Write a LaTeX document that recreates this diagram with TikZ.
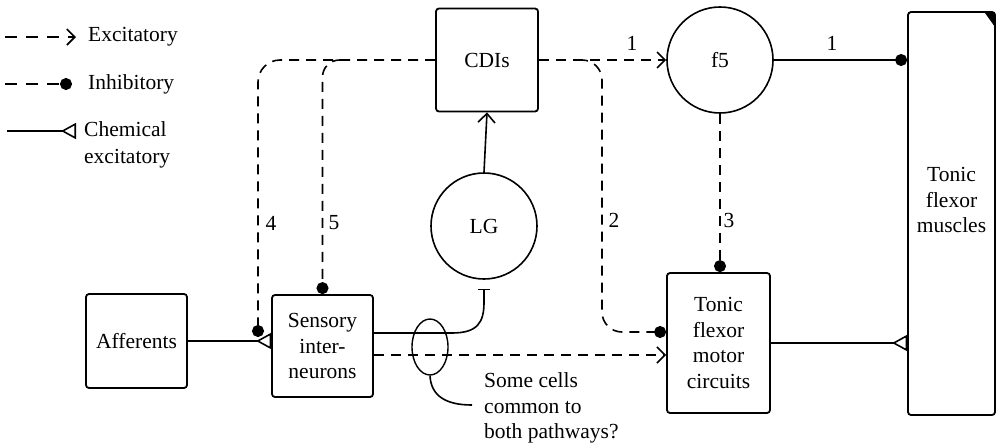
\documentclass[tikz,border=0pt]{standalone}
\usepackage{fontspec}
\setmainfont{Liberation Serif}
\usetikzlibrary{arrows.meta,shapes.geometric,calc}
\begin{document}
\begin{tikzpicture}[x=1pt,y=-1pt,
  txt/.style={font=\fontsize{21.5}{25.5}\selectfont},
  box/.style={draw, line width=1.8pt, rounded corners=3pt, inner sep=0pt, align=center, txt},
  circ/.style={draw, circle, line width=1.6pt, inner sep=0pt, minimum size=106pt, txt},
  conn/.style={line width=1.6pt},
  dsh/.style={dash pattern=on 10pt off 7pt},
  exc/.style={conn, dsh, -{Straight Barb[length=8pt,width=16pt]}},
  inh/.style={conn, dsh, -{Circle[length=12pt]}},
  chem/.style={conn, -{Triangle[open,reversed,length=15pt,width=16pt]}},
  lbl/.style={txt, inner sep=0pt}
]
\useasboundingbox (0,0) rectangle (1000,445);

% legend
\coordinate (l1a) at (5,37);  \coordinate (l1b) at (76,37);
\coordinate (l2a) at (5,84);  \coordinate (l2b) at (72,84);
\coordinate (l3a) at (7,131); \coordinate (l3b) at (76,131);
\draw[exc, dash pattern=on 12pt off 9pt] (l1a) -- (l1b);
\draw[inh, dash pattern=on 12pt off 9pt] (l2a) -- (l2b);
\draw[chem] (l3a) -- (l3b);
\node[lbl, anchor=west] (l1t) at (88,37) {Excitatory};
\node[lbl, anchor=west] (l2t) at (88,84) {Inhibitory};
\node[lbl, anchor=west, align=left] (l3t) at (84,145) {Chemical\\[1pt]excitatory};

% nodes
\node[box, minimum width=101pt, minimum height=94pt] (aff) at (136.5,341) {Afferents};
\node[box, minimum width=101pt, minimum height=102pt] (sens) at (322.5,346) {Sensory\\inter-\\neurons};
\node[box, minimum width=102pt, minimum height=103pt] (cdi) at (487,60) {CDIs};
\node[circ] (f5) at (720,60) {f5};
\node[circ] (lg) at (484,226) {LG};
\node[box, minimum width=103pt, minimum height=140pt] (motor) at (718.5,343) {Tonic\\flexor\\motor\\circuits};
\node[box, minimum width=87pt, minimum height=403pt] (musc) at (951.5,213.5) {};
\node[lbl, align=center] (musctext) at (951.5,200) {Tonic\\flexor\\muscles};
\fill (985,13) -- (995,13) -- (995,27) -- cycle;

% connectors
\draw[exc] (cdi.east) -- (f5.west);
\draw[conn, -{Circle[length=12pt]}] (f5.east) -- (f5.east -| musc.west);
\node[lbl] (n1a) at (632,43) {1};
\node[lbl] (n1b) at (832,43) {1};

\coordinate (j2) at (578,60);
\coordinate (c2) at (602,332);
\draw[inh, rounded corners=20pt] (j2) -| (c2) -- (c2 -| motor.west);
\node[lbl] (n2) at (614,220) {2};

\draw[inh] (f5.south) -- (f5.south |- motor.north);
\node[lbl] (n3) at (729,220) {3};

\coordinate (p4) at (258,337);
\draw[inh, rounded corners=22pt] (cdi.west) -| (p4);
\node[lbl] (n4) at (271,223) {4};

\coordinate (j5) at (342,60);
\draw[inh, rounded corners=17pt] (j5) -| (sens.north);
\node[lbl] (n5) at (334,223) {5};

\draw[chem] (aff.east) -- (aff.east -| sens.west);
\draw[chem] (motor.east) -- (motor.east -| musc.west);

\draw[conn, -{Straight Barb[length=9pt,width=17pt]}] (lg.north) -- (cdi.south);
\draw[conn, -{Bar[width=12pt]}] ($(sens.east)+(0,-13)$) -- (452,333)
   .. controls (478,333) and (484,322) .. (484,302) -- ($(lg.south)+(0,9)$);
\draw[exc] ($(sens.east)+(0,9)$) coordinate (s2) -- (s2 -| motor.west);

% ellipse and note
\node[draw, ellipse, line width=1.4pt, minimum width=36pt, minimum height=56pt, inner sep=0pt] (ell) at (430,347) {};
\coordinate (cl) at (472,405);
\draw[conn] (ell.south) .. controls (431,396) and (446,405) .. (cl);
\node[lbl, anchor=west, align=left] (note) at (484,408) {Some cells\\common to\\both pathways?};
\end{tikzpicture}
\end{document}
